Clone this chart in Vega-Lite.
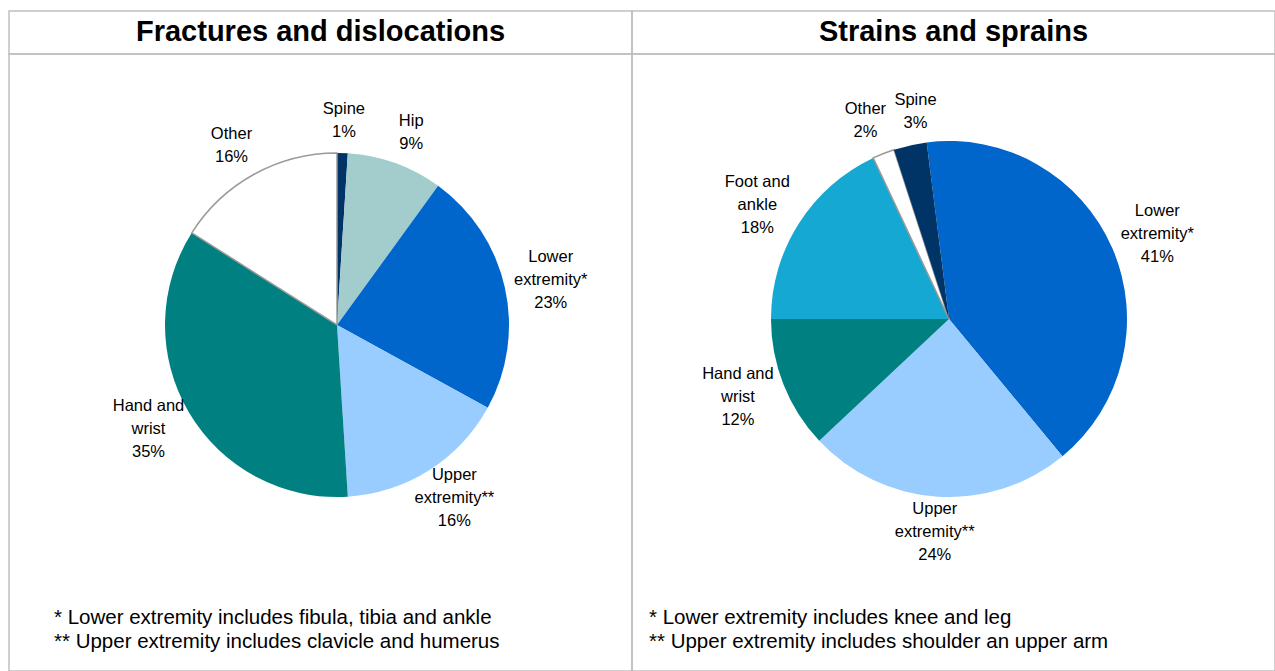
{
  "$schema": "https://vega.github.io/schema/vega-lite/v6.json",
  "background": "white",
  "padding": {"left": 8, "top": 10, "right": 0, "bottom": 0},
  "autosize": {"type": "pad"},
  "bounds": "flush",
  "spacing": 0,
  "columns": 2,
  "config": {
    "font": "Liberation Sans",
    "view": {"stroke": "#c0c0c0", "strokeWidth": 1.5},
    "text": {"font": "Liberation Sans", "color": "black"},
    "title": {"font": "Liberation Sans", "color": "black", "fontWeight": "normal", "fontSize": 20.5, "lineHeight": 24, "anchor": "start", "orient": "bottom", "baseline": "top"}
  },
  "datasets": {
    "fractures": [
      {"region": "Spine", "name": "Spine", "pct": 1, "k": 1},
      {"region": "Hip", "name": "Hip", "pct": 9, "k": 2},
      {"region": "Lower extremity", "name": "Lower\nextremity*", "pct": 23, "k": 3},
      {"region": "Upper extremity", "name": "Upper\nextremity**", "pct": 16, "k": 4},
      {"region": "Hand and wrist", "name": "Hand and\nwrist", "pct": 35, "k": 5},
      {"region": "Other", "name": "Other", "pct": 16, "k": 6}
    ],
    "strains": [
      {"region": "Lower extremity", "name": "Lower\nextremity*", "pct": 41, "k": 1},
      {"region": "Upper extremity", "name": "Upper\nextremity**", "pct": 24, "k": 2},
      {"region": "Hand and wrist", "name": "Hand and\nwrist", "pct": 12, "k": 3},
      {"region": "Foot and ankle", "name": "Foot and\nankle", "pct": 18, "k": 4},
      {"region": "Other", "name": "Other", "pct": 2, "k": 5},
      {"region": "Spine", "name": "Spine", "pct": 3, "k": 6}
    ]
  },
  "resolve": {"scale": {"theta": "independent", "color": "shared"}},
  "concat": [
    {
      "width": 623,
      "height": 43,
      "view": {"stroke": "#c0c0c0", "strokeWidth": 1.5},
      "data": {"values": [{"t": "Fractures and dislocations"}]},
      "mark": {"type": "text", "fontSize": 29, "fontWeight": "bold", "dy": -1},
      "encoding": {"text": {"field": "t"}}
    },
    {
      "width": 643,
      "height": 43,
      "view": {"stroke": "#c0c0c0", "strokeWidth": 1.5},
      "data": {"values": [{"t": "Strains and sprains"}]},
      "mark": {"type": "text", "fontSize": 29, "fontWeight": "bold", "dy": -1},
      "encoding": {"text": {"field": "t"}}
    },
    {
      "width": 623,
      "height": 617,
      "view": {"stroke": "#c0c0c0", "strokeWidth": 1.5},
      "data": {"name": "fractures"},
      "title": {
        "text": ["* Lower extremity includes fibula, tibia and ankle", "** Upper extremity includes clavicle and humerus"],
        "offset": -63,
        "dx": 45
      },
      "encoding": {
        "theta": {"field": "pct", "type": "quantitative", "stack": true},
        "order": {"field": "k", "type": "quantitative"},
        "color": {
          "field": "region",
          "type": "nominal",
          "legend": null,
          "scale": {
            "domain": ["Spine", "Hip", "Lower extremity", "Upper extremity", "Hand and wrist", "Other", "Foot and ankle"],
            "range": ["#003366", "#a3cdcd", "#0066cc", "#99ccff", "#008080", "#ffffff", "#14a8d2"]
          }
        }
      },
      "layer": [
        {
          "mark": {"type": "arc", "outerRadius": 172, "xOffset": 16.5, "yOffset": -37.5, "strokeWidth": 1.5},
          "encoding": {
            "stroke": {"condition": {"test": "datum.region === 'Other'", "value": "#9a9a9a"}, "value": "transparent"}
          }
        },
        {
          "transform": [{"calculate": "datum.name + '\\n' + datum.pct + '%'", "as": "label"}],
          "mark": {
            "type": "text", "radius": 205, "xOffset": 16.5, "yOffset": -37.5,
            "fontSize": 16.5, "lineBreak": "\n", "lineHeight": 23,
            "dx": {"expr": "sin((datum.pct_start + datum.pct_end) * PI / 100) * 14"},
            "dy": {"expr": "indexof(datum.name, '\\n') >= 0 ? -23 : -11.5"}
          },
          "encoding": {"text": {"field": "label"}, "color": {"value": "black"}}
        }
      ]
    },
    {
      "width": 643,
      "height": 617,
      "view": {"stroke": "#c0c0c0", "strokeWidth": 1.5},
      "data": {"name": "strains"},
      "title": {
        "text": ["* Lower extremity includes knee and leg", "** Upper extremity includes shoulder an upper arm"],
        "offset": -63,
        "dx": 17
      },
      "encoding": {
        "theta": {"field": "pct", "type": "quantitative", "stack": true, "scale": {"range": [-0.1257, 6.1575]}},
        "order": {"field": "k", "type": "quantitative"},
        "color": {"field": "region", "type": "nominal", "legend": null}
      },
      "layer": [
        {
          "mark": {"type": "arc", "outerRadius": 178, "xOffset": -4.5, "yOffset": -43.5, "strokeWidth": 1.5},
          "encoding": {
            "stroke": {"condition": {"test": "datum.region === 'Other'", "value": "#9a9a9a"}, "value": "transparent"}
          }
        },
        {
          "transform": [{"calculate": "datum.name + '\\n' + datum.pct + '%'", "as": "label"}],
          "mark": {
            "type": "text", "radius": 213, "xOffset": -4.5, "yOffset": -43.5,
            "fontSize": 16.5, "lineBreak": "\n", "lineHeight": 23,
            "dx": {"expr": "sin((datum.pct_start + datum.pct_end) * PI / 100 - 0.1257) * 14 + (cos((datum.pct_start + datum.pct_end) * PI / 100 - 0.1257) > 0.95 && sin((datum.pct_start + datum.pct_end) * PI / 100 - 0.1257) < 0 ? 16 : 0)"},
            "dy": {"expr": "indexof(datum.name, '\\n') >= 0 ? -23 : -11.5"}
          },
          "encoding": {"text": {"field": "label"}, "color": {"value": "black"}}
        }
      ]
    }
  ]
}
